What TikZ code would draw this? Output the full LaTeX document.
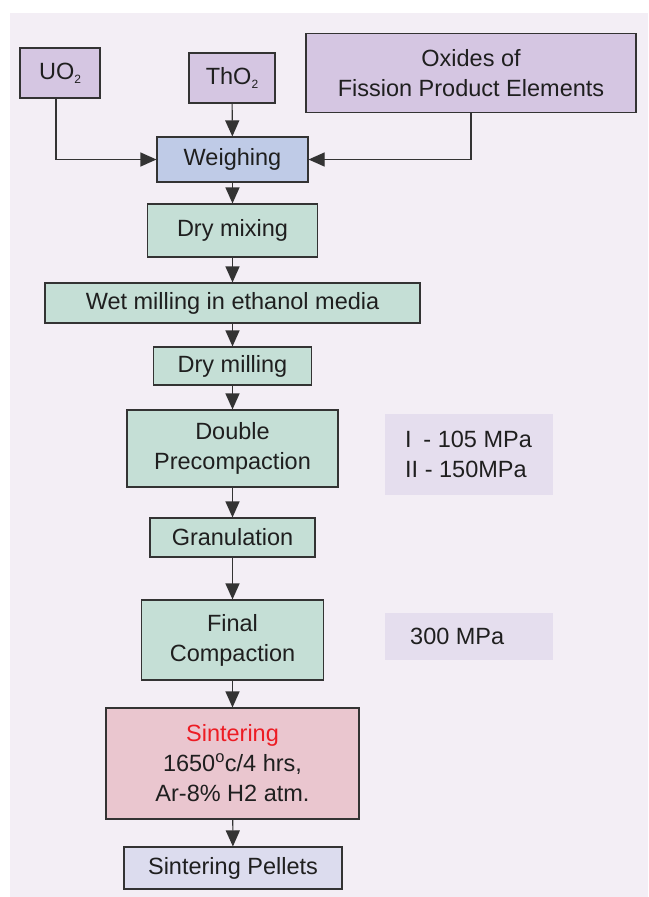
\documentclass[tikz,border=0pt]{standalone}
\usepackage{fontspec}
\setmainfont{Liberation Sans}
\usetikzlibrary{arrows.meta}
\definecolor{bgcol}{HTML}{F3EEF5}
\definecolor{rawcol}{HTML}{D5C6E2}
\definecolor{weighcol}{HTML}{BFCBE7}
\definecolor{stepcol}{HTML}{C5DFD6}
\definecolor{sintcol}{HTML}{EAC6CF}
\definecolor{pelletcol}{HTML}{DCDCEE}
\definecolor{notecol}{HTML}{E5DEEE}
\definecolor{edgecol}{HTML}{333333}
\definecolor{sintred}{HTML}{ED1C24}
\newcommand{\lowtwo}{\raisebox{-0.35ex}{\fontsize{12}{12}\selectfont 2}}

\begin{document}
\begin{tikzpicture}[x=1pt, y=-1pt, >={Triangle[width=14pt,length=16pt]},
  box/.style={draw=edgecol, line width=1.1pt, inner sep=0pt, align=center,
    font=\fontsize{23.5}{30}\selectfont, text=black!88},
  note/.style={fill=notecol, inner sep=0pt, align=left,
    font=\fontsize{23.5}{30}\selectfont, text=black!88},
  flow/.style={->, draw=edgecol, line width=1.1pt}]
\useasboundingbox (0,0) rectangle (648,897);
\fill[bgcol] (10,13) rectangle (648,897);
% raw materials
\node[box, fill=rawcol, minimum width=80pt, minimum height=50pt] (uo2) at (60,73) {UO\lowtwo};
\node[box, fill=rawcol, minimum width=86pt, minimum height=50pt] (tho2) at (232,78) {ThO\lowtwo};
\node[box, fill=rawcol, minimum width=330pt, minimum height=79pt] (oxides) at (471,73) {Oxides of\\Fission Product Elements};
% process chain
\node[box, fill=weighcol, minimum width=151pt, minimum height=45pt] (weigh) at (232.5,159.5) {Weighing};
\node[box, fill=stepcol, minimum width=170pt, minimum height=53pt] (drymix) at (232.5,230.5) {Dry mixing};
\node[box, fill=stepcol, minimum width=375pt, minimum height=40pt] (wetmill) at (232.5,303) {Wet milling in ethanol media};
\node[box, fill=stepcol, minimum width=158pt, minimum height=38pt] (drymill) at (232.5,366) {Dry milling};
\node[box, fill=stepcol, minimum width=211pt, minimum height=77pt] (precomp) at (232.5,448.5) {Double\\Precompaction};
\node[box, fill=stepcol, minimum width=165pt, minimum height=39pt] (gran) at (232.5,537.5) {Granulation};
\node[box, fill=stepcol, minimum width=182pt, minimum height=80pt] (final) at (232.5,640) {Final\\Compaction};
\node[box, fill=sintcol, minimum width=253pt, minimum height=111pt] (sinter) at (232.5,763.5) {\textcolor{sintred}{Sintering}\\1650\textsuperscript{o}c/4 hrs,\\Ar-8\% H2 atm.};
\node[box, fill=pelletcol, minimum width=218pt, minimum height=42pt] (pellet) at (233,868) {Sintering Pellets};
% pressures
\fill[notecol] (385,414) rectangle (553,495);
\node[note, anchor=west] (press1) at (405,454.5) {I\enspace- 105 MPa\\II - 150MPa};
\fill[notecol] (385,613) rectangle (553,660);
\node[note, anchor=west] (press2) at (410,636.5) {300 MPa};
% connectors
\draw[flow] ([xshift=-4pt]uo2.south) |- (weigh.west);
\draw[flow] (oxides.south) |- (weigh.east);
\draw[flow] (tho2) -- (weigh);
\draw[flow] (weigh) -- (drymix);
\draw[flow] (drymix) -- (wetmill);
\draw[flow] (wetmill) -- (drymill);
\draw[flow] (drymill) -- (precomp);
\draw[flow] (precomp) -- (gran);
\draw[flow] (gran) -- (final);
\draw[flow] (final) -- (sinter);
\draw[flow] (sinter) -- (pellet);
\end{tikzpicture}
\end{document}
